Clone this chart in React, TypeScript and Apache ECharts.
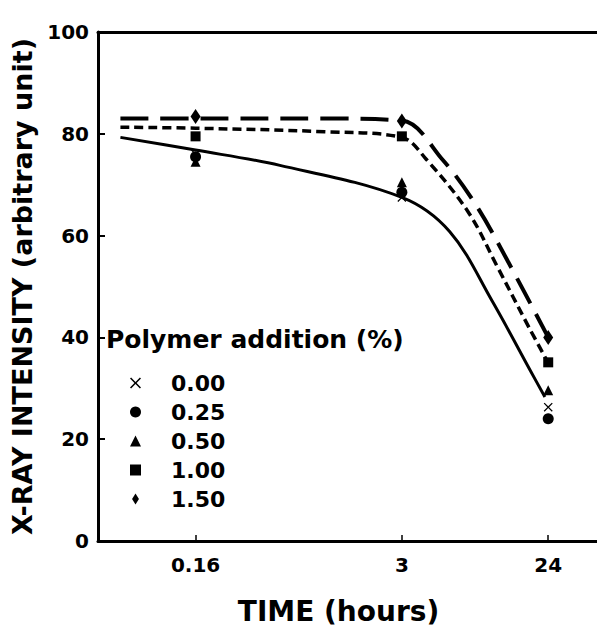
import React, { useEffect, useRef } from "react";
import * as echarts from "echarts";

// ---- data ----
const TIMES = [0.16, 3, 24];
const TIME_TICKS = [0.16, 3, 24];
const Y_TITLE = "X-RAY INTENSITY (arbitrary unit)";
const X_TITLE = "TIME (hours)";
const LEGEND_TITLE = "Polymer addition (%)";
const SERIES_NAMES = ["0.00", "0.25", "0.50", "1.00", "1.50"];

const P000 = [76.0, 67.5, 26.3];
const P025 = [75.5, 68.5, 24.0];
const P050 = [74.5, 70.5, 29.6];
const P100 = [79.5, 79.5, 35.1];
const P150 = [83.4, 82.5, 40.0];

// hand-drawn trend curves
const FIT_SOLID_T = [0.055, 0.16, 0.53, 3, 5.91, 10.8, 18.6, 22.9];
const FIT_SOLID_V = [79.3, 76.8, 73.8, 67.5, 60.8, 47.2, 33.5, 28.3];
const FIT_SHORT_T = [0.055, 0.16, 1, 3, 4.24, 7.75, 11.6, 18.3, 24];
const FIT_SHORT_V = [81.3, 81.1, 80.4, 79.3, 75.0, 64.5, 54.0, 41.9, 35.0];
const FIT_LONG_T = [0.055, 0.16, 1, 3, 5.32, 8.6, 13.5, 24];
const FIT_LONG_V = [83.0, 83.0, 83.0, 82.6, 75.0, 66.0, 55.0, 40.0];

const FONT = "DejaVu Sans";
const CROSS = "path://M1,0 L5,4 L9,0 L10,1 L6,5 L10,9 L9,10 L5,6 L1,10 L0,9 L4,5 L0,1 Z";
const DIAMOND = "path://M5,0 L10,8 L5,16 L0,8 Z";
const SYMBOLS = [CROSS, "circle", "triangle", "rect", DIAMOND];
const SIZES: any[] = [9, 11, 10, 10, [10, 15]];
const VALUES = [P000, P025, P050, P100, P150];

const pairs = (t: number[], v: number[]) => t.map((x, i) => [x, v[i]]);

export default function App() {
  const ref = useRef<HTMLDivElement>(null);
  useEffect(() => {
    if (!ref.current) return;
    const chart = echarts.init(ref.current, null, { renderer: "svg" });
    const txt = { fontFamily: FONT, fontWeight: "bold" as const, color: "#000" };
    const fitLine = (name: string, t: number[], v: number[], type: any, width: number) => ({
      name,
      type: "line",
      data: pairs(t, v),
      smooth: 0.35,
      symbol: "none",
      showSymbol: false,
      silent: true,
      z: 2,
      lineStyle: { color: "#000", width, type, cap: "butt" },
    });
    chart.setOption({
      animation: false,
      backgroundColor: "#fff",
      textStyle: { fontFamily: FONT },
      grid: { left: 98, right: 0, top: 32, bottom: 85, containLabel: false },
      title: {
        text: LEGEND_TITLE,
        left: 106,
        top: 327,
        padding: 0,
        textStyle: { ...txt, fontSize: 25 },
      },
      legend: {
        orient: "vertical",
        left: 130,
        top: 372,
        itemWidth: 11,
        itemHeight: 11,
        itemGap: 7,
        selectedMode: false,
        padding: 0,
        textStyle: { ...txt, fontSize: 22, lineHeight: 22, padding: [0, 0, 0, 25] },
        data: SERIES_NAMES.map((n, i) => ({ name: n, icon: SYMBOLS[i] })),
      },
      xAxis: [
        {
          type: "log",
          logBase: 10,
          min: 0.04,
          max: 48,
          position: "bottom",
          axisLine: { show: true, onZero: false, lineStyle: { color: "#000", width: 3 } },
          axisTick: {
            show: true,
            inside: true,
            length: 6,
            customValues: TIME_TICKS,
            lineStyle: { color: "#000", width: 1.5 },
          },
          minorTick: { show: false },
          axisLabel: {
            customValues: TIME_TICKS,
            formatter: (v: number) => String(v),
            margin: 14,
            fontSize: 20,
            ...txt,
          },
          splitLine: { show: false },
          name: X_TITLE,
          nameLocation: "middle",
          nameGap: 56,
          nameTextStyle: { ...txt, fontSize: 28, padding: [0, 18, 0, 0] },
        },
        {
          type: "value",
          position: "top",
          min: 0,
          max: 1,
          axisLine: { show: true, onZero: false, lineStyle: { color: "#000", width: 3 } },
          axisTick: { show: false },
          axisLabel: { show: false },
          splitLine: { show: false },
        },
      ],
      yAxis: {
        type: "value",
        min: 0,
        max: 100,
        interval: 20,
        axisLine: { show: true, onZero: false, lineStyle: { color: "#000", width: 3 } },
        axisTick: { show: true, inside: true, length: 7, lineStyle: { color: "#000", width: 2 } },
        axisLabel: { margin: 9, fontSize: 20, padding: [0, 0, 10, 0], ...txt },
        splitLine: { show: false },
        name: Y_TITLE,
        nameLocation: "middle",
        nameGap: 60,
        nameTextStyle: { ...txt, fontSize: 27 },
      },
      series: [
        fitLine("fit 0.00-0.50", FIT_SOLID_T, FIT_SOLID_V, "solid", 3),
        fitLine("fit 1.00", FIT_SHORT_T, FIT_SHORT_V, [9, 5], 3.5),
        fitLine("fit 1.50", FIT_LONG_T, FIT_LONG_V, [28, 12], 4),
        ...SERIES_NAMES.map((n, i) => ({
          name: n,
          type: "scatter",
          data: pairs(TIMES, VALUES[i]),
          symbol: SYMBOLS[i],
          symbolSize: SIZES[i],
          z: 5,
          itemStyle: { color: "#000", opacity: 1 },
        })),
      ],
    });
    return () => chart.dispose();
  }, []);
  return (
    <div
      ref={ref}
      style={{ position: "absolute", left: 0, top: 0, width: 597, height: 630, background: "#fff" }}
    />
  );
}
